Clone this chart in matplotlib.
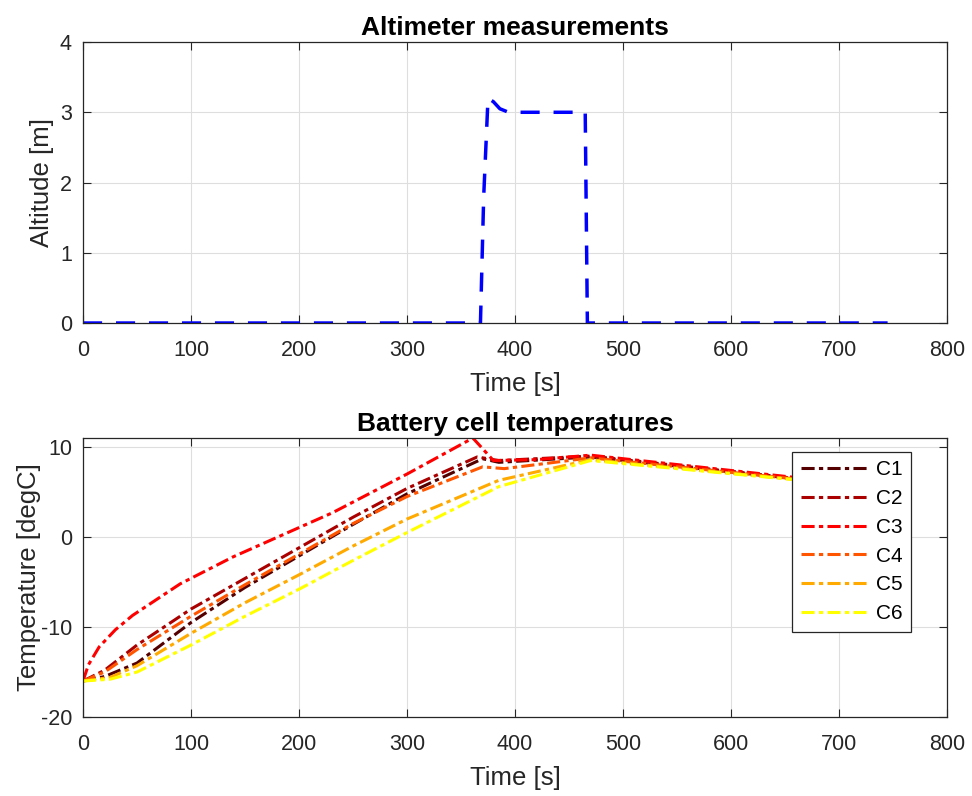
import matplotlib
matplotlib.use("Agg")
import matplotlib.pyplot as plt

# Altimeter data
alt_time = [0, 368, 371, 375, 380, 386, 394, 420, 465, 467, 745]
alt_vals = [0, 0, 1.8, 3.2, 3.15, 3.05, 3.0, 3.0, 3.0, 0, 0]

# Battery cell temperatures
c1_t = [0, 20, 50, 100, 150, 200, 250, 300, 370, 385, 470, 745]
c1_v = [-16, -15.5, -14, -9.5, -5.6, -2.1, 1.4, 4.8, 8.7, 8.3, 8.9, 5.4]
c2_t = [0, 20, 50, 100, 150, 200, 250, 300, 365, 385, 470, 745]
c2_v = [-16, -14.8, -12, -8.0, -4.6, -1.2, 2.2, 5.4, 8.9, 8.5, 9.0, 5.4]
c3_t = [0, 5, 15, 30, 46, 90, 139, 231, 300, 361, 380, 420, 470, 745]
c3_v = [-16, -14.2, -12.2, -10.3, -8.7, -5.2, -2.2, 2.7, 7.0, 11.0, 8.5, 8.6, 9.1, 5.5]
c4_t = [0, 20, 50, 100, 150, 200, 250, 300, 370, 390, 470, 745]
c4_v = [-16, -15.0, -12.5, -8.8, -5.3, -1.9, 1.5, 4.5, 7.8, 7.6, 8.8, 5.4]
c5_t = [0, 25, 50, 100, 150, 200, 250, 300, 385, 470, 745]
c5_v = [-16, -15.6, -14.3, -10.7, -7.3, -4.2, -1.0, 2.0, 6.3, 8.6, 5.4]
c6_t = [0, 25, 50, 100, 150, 200, 250, 300, 385, 470, 745]
c6_v = [-16, -15.8, -15.0, -12.0, -8.8, -5.8, -2.6, 0.5, 5.6, 8.5, 5.4]

labels = ["C1", "C2", "C3", "C4", "C5", "C6"]
colors = [(1/3, 0, 0), (2/3, 0, 0), (1, 0, 0), (1, 1/3, 0), (1, 2/3, 0), (1, 1, 0)]

plt.rcParams['font.family'] = ['Liberation Sans', 'DejaVu Sans']
plt.rcParams['axes.unicode_minus'] = False

TICK = 15.5
LAB = 18.5
TIT = 19
DARK = (0.15, 0.15, 0.15)

fig = plt.figure(figsize=(9.72, 7.96), dpi=100)
ax1 = fig.add_axes([0.0854, 0.5942, 0.8889, 0.353])
ax2 = fig.add_axes([0.0854, 0.0992, 0.8889, 0.3505])

def style(ax):
    ax.grid(True, color=(0.87, 0.87, 0.87), linewidth=0.8)
    ax.set_axisbelow(True)
    ax.tick_params(direction='in', top=True, right=True, length=6, width=0.8,
                   colors=DARK, labelsize=TICK)
    ax.tick_params(axis='x', pad=12)
    ax.tick_params(axis='y', pad=8)
    for s in ax.spines.values():
        s.set_color(DARK)
        s.set_linewidth(0.9)

ax1.plot(alt_time, alt_vals, color='blue', linestyle=(0, (5.5, 4)), linewidth=2.5)
ax1.set_xlim(0, 800)
ax1.set_ylim(0, 4)
ax1.set_xticks(range(0, 801, 100))
ax1.set_yticks([0, 1, 2, 3, 4])
ax1.set_xlabel('Time [s]', color=DARK, fontsize=LAB, labelpad=8)
ax1.set_ylabel('Altitude [m]', color=DARK, fontsize=LAB, labelpad=4)
ax1.set_title('Altimeter measurements', fontweight='bold', fontsize=TIT, pad=5)
style(ax1)

series = [(c1_t, c1_v), (c2_t, c2_v), (c3_t, c3_v), (c4_t, c4_v), (c5_t, c5_v), (c6_t, c6_v)]
for (t, v), lab, col in zip(series, labels, colors):
    ax2.plot(t, v, color=col, linestyle=(0, (4.3, 1.4, 1.4, 1.4)), linewidth=2.2, label=lab)
ax2.set_xlim(0, 800)
ax2.set_ylim(-20, 11)
ax2.set_xticks(range(0, 801, 100))
ax2.set_yticks([-20, -10, 0, 10])
ax2.set_xlabel('Time [s]', color=DARK, fontsize=LAB, labelpad=8)
ax2.set_ylabel('Temperature [degC]', color=DARK, fontsize=LAB, labelpad=0)
ax2.set_title('Battery cell temperatures', fontweight='bold', fontsize=TIT, pad=5)
style(ax2)
leg = ax2.legend(loc='upper right', bbox_to_anchor=(0.958, 0.95), fancybox=False,
                 framealpha=1, edgecolor=DARK, fontsize=15,
                 handlelength=3.3, labelspacing=0.47, borderpad=0.4,
                 handletextpad=0.3, borderaxespad=0.0)
leg.get_frame().set_linewidth(0.9)

fig.savefig('out.png', dpi=100)
